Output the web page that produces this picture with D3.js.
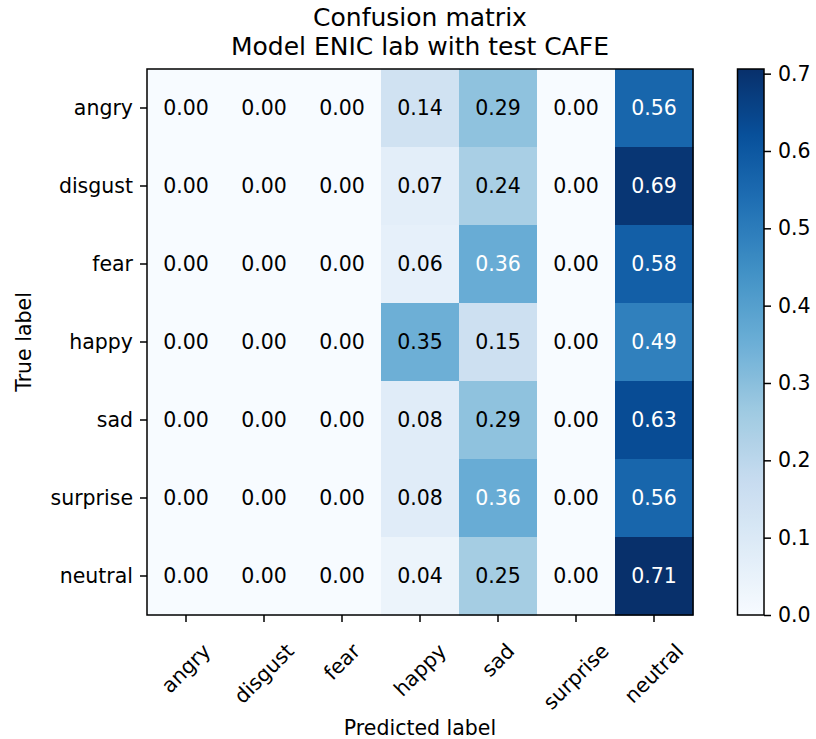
<!DOCTYPE html>
<html>
<head>
<meta charset="utf-8">
<script src="https://cdn.jsdelivr.net/npm/d3@7"></script>
<style>
  html, body { margin: 0; padding: 0; background: #fff; }
  svg text { font-family: "DejaVu Sans", sans-serif; fill: #000; }
</style>
</head>
<body>
<svg id="chart" width="816" height="739"></svg>
<script>
// Class labels (rows = true label, columns = predicted label)
const classes = ["angry", "disgust", "fear", "happy", "sad", "surprise", "neutral"];

// Normalised confusion matrix rows
const rowAngry    = [0.00, 0.00, 0.00, 0.14, 0.29, 0.00, 0.56];
const rowDisgust  = [0.00, 0.00, 0.00, 0.07, 0.24, 0.00, 0.69];
const rowFear     = [0.00, 0.00, 0.00, 0.06, 0.36, 0.00, 0.58];
const rowHappy    = [0.00, 0.00, 0.00, 0.35, 0.15, 0.00, 0.49];
const rowSad      = [0.00, 0.00, 0.00, 0.08, 0.29, 0.00, 0.63];
const rowSurprise = [0.00, 0.00, 0.00, 0.08, 0.36, 0.00, 0.56];
const rowNeutral  = [0.00, 0.00, 0.00, 0.04, 0.25, 0.00, 0.706];

const matrix = [rowAngry, rowDisgust, rowFear, rowHappy, rowSad, rowSurprise, rowNeutral];

// Colour bar ticks
const colorbarTicks = [0.0, 0.1, 0.2, 0.3, 0.4, 0.5, 0.6, 0.7];

const titleLines = ["Confusion matrix", "Model ENIC lab with test CAFE"];

// ColorBrewer Blues, linearly interpolated
const bluesStops = ["#f7fbff","#deebf7","#c6dbef","#9ecae1","#6baed6","#4292c6","#2171b5","#08519c","#08306b"];

const svg = d3.select("#chart");
const fontSize = 20.5;

const plot = { left: 147, top: 69, size: 546 };
const vmax = d3.max(matrix.flat());
const vmin = d3.min(matrix.flat());

const blues = d3.scaleLinear()
  .domain(bluesStops.map((_, i) => i / (bluesStops.length - 1)))
  .range(bluesStops)
  .interpolate(d3.interpolateRgb);
const color = v => blues((v - vmin) / (vmax - vmin));

const x = d3.scaleBand().domain(classes).range([plot.left, plot.left + plot.size]);
const y = d3.scaleBand().domain(classes).range([plot.top, plot.top + plot.size]);

// Cells
const cells = [];
matrix.forEach((row, i) => row.forEach((v, j) => cells.push({ t: classes[i], p: classes[j], v })));

svg.append("g").selectAll("rect").data(cells).join("rect")
  .attr("x", d => x(d.p))
  .attr("y", d => y(d.t))
  .attr("width", x.bandwidth() + 0.5)
  .attr("height", y.bandwidth() + 0.5)
  .attr("fill", d => color(d.v));

const thresh = vmax / 2;
svg.append("g").selectAll("text").data(cells).join("text")
  .attr("x", d => x(d.p) + x.bandwidth() / 2)
  .attr("y", d => y(d.t) + y.bandwidth() / 2)
  .attr("text-anchor", "middle")
  .attr("dominant-baseline", "central")
  .style("font-size", fontSize + "px")
  .style("fill", d => d.v > thresh ? "#ffffff" : "#000000")
  .text(d => d3.format(".2f")(d.v));

// Frame
svg.append("rect")
  .attr("x", plot.left).attr("y", plot.top)
  .attr("width", plot.size).attr("height", plot.size)
  .attr("fill", "none").attr("stroke", "#000").attr("stroke-width", 1.5);

// Y axis
const yAxis = svg.append("g")
  .attr("transform", `translate(${plot.left},0)`)
  .call(d3.axisLeft(y).tickSize(7).tickPadding(7));
yAxis.select(".domain").remove();
yAxis.selectAll(".tick line").attr("stroke", "#000").attr("stroke-width", 1.5);
yAxis.selectAll(".tick text").style("font-size", fontSize + "px").attr("fill", "#000");

// X axis with 45° labels centred under each tick
const xAxis = svg.append("g")
  .attr("transform", `translate(0,${plot.top + plot.size})`)
  .call(d3.axisBottom(x).tickSize(7).tickPadding(7));
xAxis.select(".domain").remove();
xAxis.selectAll(".tick line").attr("stroke", "#000").attr("stroke-width", 1.5);
xAxis.selectAll(".tick text")
  .style("font-size", fontSize + "px")
  .attr("fill", "#000")
  .attr("dy", null)
  .attr("text-anchor", "middle")
  .attr("dominant-baseline", "central")
  .each(function () {
    const w = this.getComputedTextLength();
    const h = fontSize * 1.16;
    const half = (w + h) / (2 * Math.SQRT2);
    const cy = 24 + half;
    d3.select(this).attr("y", cy).attr("x", 0)
      .attr("transform", `rotate(-45,0,${cy})`);
  });

// Axis titles
svg.append("text")
  .attr("x", plot.left + plot.size / 2)
  .attr("y", 735)
  .attr("text-anchor", "middle")
  .style("font-size", fontSize + "px")
  .text("Predicted label");

svg.append("text")
  .attr("transform", `translate(31,${plot.top + plot.size / 2}) rotate(-90)`)
  .attr("text-anchor", "middle")
  .style("font-size", fontSize + "px")
  .text("True label");

// Title (two lines)
svg.append("g").selectAll("text").data(titleLines).join("text")
  .attr("x", plot.left + plot.size / 2)
  .attr("y", (d, i) => 25.5 + i * 29.5)
  .attr("text-anchor", "middle")
  .style("font-size", "25px")
  .text(d => d);

// Colour bar
const cb = { left: 737.5, width: 26.5, top: plot.top, height: plot.size };
const cbScale = d3.scaleLinear().domain([vmin, vmax]).range([cb.top + cb.height, cb.top]);

const grad = svg.append("defs").append("linearGradient")
  .attr("id", "cbGrad").attr("x1", 0).attr("y1", 1).attr("x2", 0).attr("y2", 0);
d3.range(0, 1.0001, 0.02).forEach(t => {
  grad.append("stop").attr("offset", t).attr("stop-color", blues(t));
});

svg.append("rect")
  .attr("x", cb.left).attr("y", cb.top)
  .attr("width", cb.width).attr("height", cb.height)
  .attr("fill", "url(#cbGrad)")
  .attr("stroke", "#000").attr("stroke-width", 1.5);

const cbAxis = svg.append("g")
  .attr("transform", `translate(${cb.left + cb.width},0)`)
  .call(d3.axisRight(cbScale).tickValues(colorbarTicks).tickFormat(d3.format(".1f")).tickSize(7).tickPadding(7));
cbAxis.select(".domain").remove();
cbAxis.selectAll(".tick line").attr("stroke", "#000").attr("stroke-width", 1.5);
cbAxis.selectAll(".tick text").style("font-size", fontSize + "px").attr("fill", "#000");
</script>
</body>
</html>
